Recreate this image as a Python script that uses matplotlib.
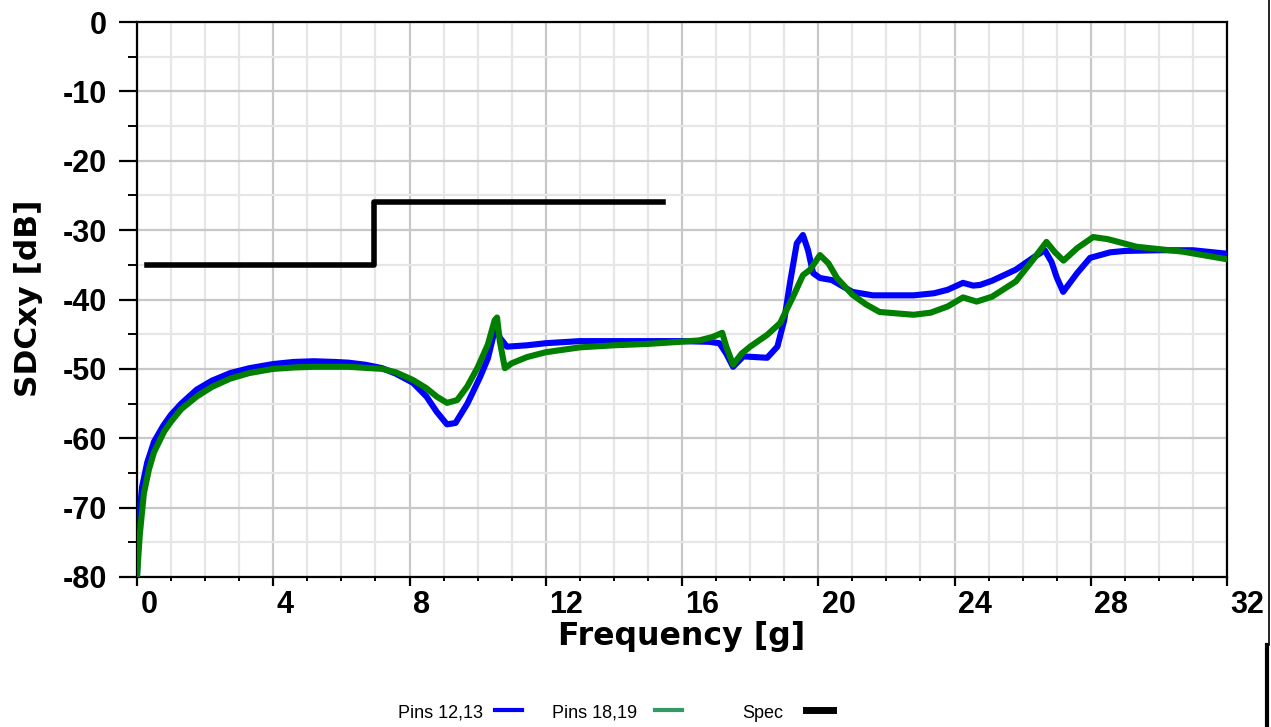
import numpy as np
import matplotlib
matplotlib.use("Agg")
import matplotlib.pyplot as plt
from matplotlib.lines import Line2D
from matplotlib.ticker import MultipleLocator
import matplotlib.transforms as mtransforms

plt.rcParams["axes.unicode_minus"] = False

# frequency [g] and SDCxy [dB]
freq_a = [0.0, 0.05, 0.15, 0.3, 0.5, 0.77, 1.0, 1.3, 1.75, 2.2, 2.74, 3.3, 4.0, 4.6,
          5.2, 5.8, 6.2, 6.7, 7.2, 7.6, 8.1, 8.5, 8.8, 9.1, 9.35, 9.7, 10.07, 10.3,
          10.45, 10.55, 10.65, 10.86, 11.45, 12.0, 13.0, 14.0, 15.0, 16.0, 16.8,
          17.1, 17.3, 17.5, 17.8, 18.5, 18.8, 19.0, 19.17, 19.37, 19.55, 19.7,
          19.85, 20.05, 20.4, 21.0, 21.6, 22.8, 23.4, 23.8, 24.25, 24.55, 24.75,
          25.1, 25.8, 26.3, 26.65, 26.85, 27.0, 27.19, 27.6, 27.98, 28.57, 29.0,
          30.0, 31.0, 32.0]
pins_12_13 = [-80, -72, -67, -63.5, -60.5, -58.2, -56.6, -55, -53, -51.7, -50.6,
              -49.9, -49.3, -49.0, -48.9, -49.0, -49.1, -49.4, -49.9, -50.7, -52,
              -54, -56.2, -58, -57.8, -55, -51.2, -48.5, -45.5, -43.8, -45.5, -46.8,
              -46.6, -46.3, -46, -46, -46, -46, -46.1, -46.3, -47.8, -49.7, -48.2,
              -48.4, -46.8, -43, -37.6, -31.9, -30.7, -32.9, -36.2, -36.9, -37.2,
              -38.9, -39.4, -39.4, -39.1, -38.6, -37.6, -38.0, -37.9, -37.3, -35.7,
              -34.0, -32.9, -34.6, -36.8, -38.9, -36.2, -34.0, -33.2, -33.0, -32.9,
              -32.9, -33.4]

freq_b = [0.0, 0.08, 0.2, 0.35, 0.5, 0.8, 1.0, 1.3, 1.75, 2.2, 2.74, 3.3, 4.0, 4.6,
          5.2, 6.2, 7.2, 7.6, 8.1, 8.5, 8.8, 9.1, 9.4, 9.7, 10.0, 10.3, 10.5, 10.57,
          10.65, 10.8, 11.0, 11.45, 12.0, 13.0, 14.0, 15.0, 15.94, 16.5, 16.9,
          17.18, 17.3, 17.5, 17.75, 18.0, 18.5, 18.88, 19.26, 19.55, 19.76, 20.05,
          20.3, 20.55, 21.0, 21.4, 21.8, 22.8, 23.3, 23.8, 24.25, 24.65, 25.1, 25.8,
          26.3, 26.7, 26.95, 27.2, 27.6, 28.07, 28.5, 29.35, 30.7, 32.0]
pins_18_19 = [-80, -74, -68, -64.5, -62, -59, -57.6, -55.8, -54, -52.6, -51.4, -50.6,
              -50, -49.8, -49.7, -49.7, -50, -50.5, -51.6, -52.8, -54, -54.9, -54.5,
              -52.5, -49.8, -46.5, -43, -42.6, -46, -49.9, -49.2, -48.3, -47.6, -46.9,
              -46.6, -46.4, -46.1, -45.9, -45.4, -44.8, -46.8, -49.4, -47.8, -46.8,
              -45.1, -43.4, -39.6, -36.5, -35.7, -33.6, -34.8, -36.9, -39.3, -40.7,
              -41.8, -42.2, -41.9, -41.0, -39.7, -40.3, -39.6, -37.4, -34.3, -31.7,
              -33.2, -34.4, -32.6, -31.0, -31.3, -32.4, -33.1, -34.2]

spec_freq = [0.3, 6.96, 6.96, 15.45]
spec_db = [-35, -35, -26, -26]

BLUE = "#0000ff"
GREEN = "#007f00"
GREEN_LEG = "#339966"
W, H = 1271, 727

fig = plt.figure(figsize=(W / 100, H / 100), dpi=100)
ax = fig.add_axes([137 / W, 1 - 577 / H, (1227 - 137) / W, (577 - 22) / H])

ax.plot(freq_a, pins_12_13, color=BLUE, lw=4.4, solid_joinstyle="round",
        solid_capstyle="round", zorder=3)
ax.plot(freq_b, pins_18_19, color=GREEN, lw=4.4, solid_joinstyle="round",
        solid_capstyle="round", zorder=4)
ax.plot(spec_freq, spec_db, color="black", lw=4.0, zorder=5)

ax.set_xlim(0, 32)
ax.set_ylim(-80, 0)
ax.xaxis.set_major_locator(MultipleLocator(4))
ax.xaxis.set_minor_locator(MultipleLocator(1))
ax.yaxis.set_major_locator(MultipleLocator(10))
ax.yaxis.set_minor_locator(MultipleLocator(5))
ax.grid(which="major", color="#c8c8c8", lw=1.6, zorder=0)
ax.grid(which="minor", color="#e6e6e6", lw=1.6, zorder=0)
ax.set_axisbelow(True)
for s in ax.spines.values():
    s.set_linewidth(1.6)

ax.tick_params(axis="y", which="major", length=13, width=1.6, pad=8.5)
ax.tick_params(axis="y", which="minor", length=6.5, width=1.4)
ax.tick_params(axis="x", which="major", length=6.5, width=1.6, pad=3)
ax.tick_params(axis="x", which="minor", length=3, width=1.4)

tick_font = dict(family="Liberation Sans", weight="bold", size=22)
for lab in ax.get_yticklabels():
    lab.set(**tick_font)
shift = mtransforms.ScaledTranslation(2.5 / 72, 0, fig.dpi_scale_trans)
for lab in ax.get_xticklabels():
    lab.set(**tick_font)
    lab.set_horizontalalignment("left")
    lab.set_transform(lab.get_transform() + shift)

fig.text(682 / W, 1 - 636 / H, "Frequency [g]", ha="center", va="center",
         family="DejaVu Sans", weight="bold", size=22.8)
fig.text(28.5 / W, 1 - 298 / H, "SDCxy [dB]", ha="center", va="center", rotation=90,
         family="DejaVu Sans", weight="bold", size=22.5)

# legend along the bottom: label, then sample line
legend_items = [("Pins 12,13", BLUE, 398, 495), ("Pins 18,19", GREEN_LEG, 552, 655),
                ("Spec", "black", 742, 806)]
for text, col, tx, lx in legend_items:
    fig.text(tx / W, 1 - 713 / H, text, ha="left", va="center",
             family="Liberation Sans", size=13)
    lw = 5 if col == "black" else 3
    fig.add_artist(Line2D([lx / W, (lx + 27) / W], [1 - 710 / H, 1 - 710 / H],
                          color=col, lw=lw, transform=fig.transFigure))

# black border strip at right edge
fig.add_artist(Line2D([1268.5 / W, 1268.5 / W], [1, 1 - 645 / H], color="black",
                      lw=1.2, transform=fig.transFigure))
fig.add_artist(Line2D([1267 / W, 1267 / W], [1 - 645 / H, 0], color="black",
                      lw=3.0, transform=fig.transFigure))

fig.savefig("out.png", dpi=100)
